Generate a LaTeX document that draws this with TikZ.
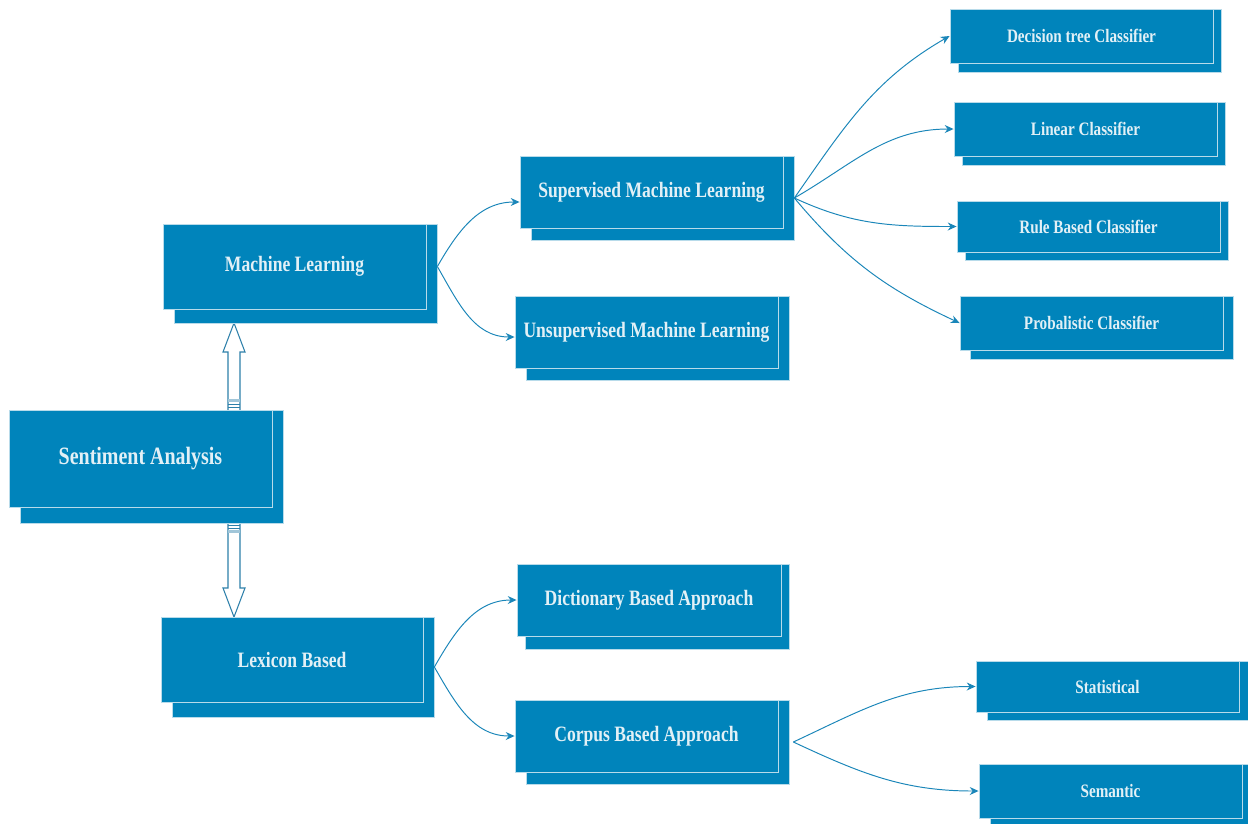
\documentclass[tikz,border=0pt]{standalone}
\usepackage{fontspec}
\setmainfont[FakeStretch=0.8]{Liberation Serif}
\usetikzlibrary{arrows.meta}
\definecolor{boxblue}{HTML}{0084BB}
\definecolor{edgeblue}{HTML}{1A86B9}
\definecolor{txt}{HTML}{E2F0F6}
\definecolor{rim}{HTML}{B8DBEA}
\definecolor{arrline}{HTML}{2E80AA}
\tikzset{
  frontbox/.style={draw=rim, line width=0.5pt, fill=boxblue, text=txt, inner sep=0pt, align=center},
  shadowbox/.style={draw=rim, line width=0.4pt, fill=boxblue, inner sep=0pt},
  big/.style={font=\bfseries\fontsize{14.2}{17}\selectfont},
  mid/.style={font=\bfseries\fontsize{12.5}{15}\selectfont},
  small/.style={font=\bfseries\fontsize{10.8}{13}\selectfont},
  conn/.style={draw=edgeblue, line width=0.55pt, -{Stealth[length=5pt,width=4.5pt]}},
  blockarr/.style={draw=arrline, line width=0.6pt, fill=white, line join=miter}
}
% #1 name, #2 style, #3 x1, #4 y1, #5 x2, #6 y2, #7 shadow dx, #8 shadow bottom, #9 text
\newcommand{\pairbox}[9]{%
  \node[shadowbox, minimum width={(#5-#3)*0.02cm}, minimum height={(#8-#4)*0.02cm}]
    (#1-s) at ({(#3+#5)/2+#7},{(#4+#8)/2}) {};
  \node[frontbox, #2, minimum width={(#5-#3)*0.02cm}, minimum height={(#6-#4)*0.02cm}]
    (#1) at ({(#3+#5)/2},{(#4+#6)/2}) {\raisebox{-1.3pt}{#9}};
}
\begin{document}
\begin{tikzpicture}[x=0.02cm,y=-0.02cm]
\clip (0,0) rectangle (1248,823);
\fill[white] (0,0) rectangle (1248,823);

% block arrows
\draw[blockarr] (228,410) -- (228,352) -- (223,352) -- (234,323) -- (245,352) -- (240,352) -- (240,410);
\fill[arrline!45] (228,399) rectangle (240,402);
\draw[arrline, line width=0.5pt] (228,404) -- (240,404) (228,407) -- (240,407);
\draw[blockarr] (228,523) -- (228,588) -- (223,588) -- (234,617) -- (245,588) -- (240,588) -- (240,523);
\fill[arrline!45] (228,530) rectangle (240,533);
\draw[arrline, line width=0.5pt] (228,525) -- (240,525) (228,528) -- (240,528);

\pairbox{sa}{big}{9}{410}{272}{507}{11}{523}{Sentiment Analysis}
\pairbox{ml}{mid}{163}{224}{426}{309}{11}{323}{Machine Learning}
\pairbox{sup}{mid}{520}{156}{783}{228}{11}{240}{Supervised Machine Learning}
\pairbox{uns}{mid}{515}{296}{778}{368}{11}{380}{Unsupervised Machine Learning}
\pairbox{dec}{small}{950}{9}{1213}{63}{8}{72}{Decision tree Classifier}
\pairbox{lin}{small}{954}{102}{1217}{156}{8}{165}{Linear Classifier}
\pairbox{rule}{small}{957}{201}{1220}{252}{8}{260}{Rule Based Classifier}
\pairbox{prob}{small}{960}{296}{1223}{350}{10}{359}{Probalistic Classifier}
\pairbox{lex}{mid}{161}{617}{423}{702}{11}{717}{Lexicon Based}
\pairbox{dict}{mid}{517}{564}{781}{636}{8}{649}{Dictionary Based Approach}
\pairbox{corp}{mid}{515}{700}{778}{772}{11}{784}{Corpus Based Approach}
\pairbox{stat}{small}{976}{661}{1239}{712}{11}{720}{Statistical}
\pairbox{sem}{small}{979}{764}{1242}{818}{11}{828}{Semantic}

% connectors
\draw[conn] (ml-s.east |- ml.center) to[out=60,in=180] ([yshift=-0.2cm]sup.west);
\draw[conn] (ml-s.east |- ml.center) to[out=-60,in=180] ([yshift=-0.1cm]uns.west);
\draw[conn] (sup-s.east) to[out=55,in=210] (dec.west);
\draw[conn] (sup-s.east) to[out=30,in=180] (lin.west);
\draw[conn] (sup-s.east) to[out=-25,in=180] (rule.west);
\draw[conn] (sup-s.east) to[out=-50,in=155] (prob.west);
\draw[conn] (lex-s.east) to[out=60,in=180] (dict.west);
\draw[conn] (lex-s.east) to[out=-60,in=180] (corp.west);
\draw[conn] ([xshift=0.08cm]corp-s.east) to[out=25,in=180] (stat.west);
\draw[conn] ([xshift=0.08cm]corp-s.east) to[out=-25,in=180] (sem.west);
\end{tikzpicture}
\end{document}
